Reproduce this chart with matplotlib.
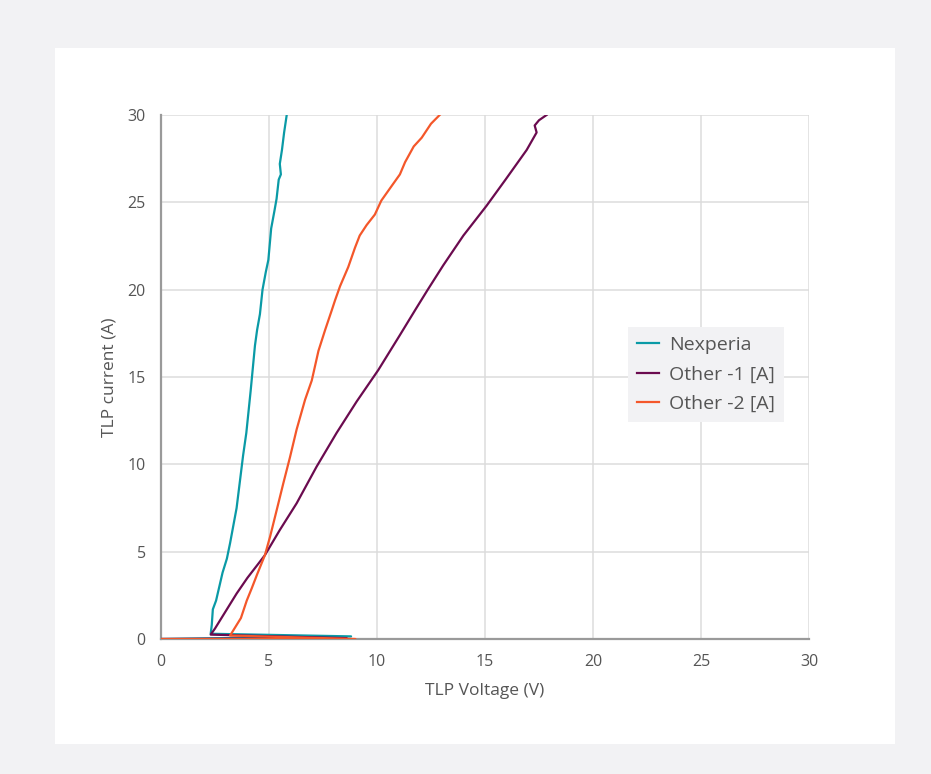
import matplotlib
matplotlib.use("Agg")
import matplotlib.pyplot as plt
from matplotlib.patches import Rectangle

# ---- data ----
nex_v = [0, 8.8, 2.3, 2.35, 2.4, 2.55, 2.7, 2.85, 3.05, 3.2, 3.35, 3.5, 3.6, 3.7, 3.8, 3.95, 4.05,
         4.15, 4.25, 4.35, 4.45, 4.58, 4.7, 4.85, 4.97, 5.1, 5.25, 5.35, 5.45, 5.55, 5.5, 5.6, 5.7, 5.82]
nex_i = [0, 0.15, 0.3, 0.8, 1.7, 2.2, 3.0, 3.8, 4.6, 5.5, 6.5, 7.5, 8.5, 9.5, 10.5, 11.8, 13.0,
         14.2, 15.5, 16.8, 17.7, 18.6, 20.0, 21.0, 21.7, 23.5, 24.5, 25.2, 26.3, 26.6, 27.2, 28.0, 29.0, 30.0]

o1_v = [0, 8.6, 2.3, 2.5, 3.0, 3.5, 4.0, 4.5, 4.81, 5.5, 6.28, 7.2, 8.13, 9.06, 10.06,
        11.06, 11.8, 12.35, 13.07, 14.0, 15.07, 15.95, 16.93, 17.39, 17.3, 17.5, 17.85]
o1_i = [0, 0.05, 0.25, 0.6, 1.6, 2.6, 3.5, 4.3, 4.8, 6.24, 7.77, 9.86, 11.8, 13.6, 15.4,
        17.4, 18.9, 20.0, 21.4, 23.1, 24.8, 26.3, 28.0, 29.0, 29.4, 29.7, 30.0]

o2_v = [0, 9.0, 3.2, 3.4, 3.7, 3.97, 4.2, 4.45, 4.81, 5.05, 5.36, 5.66, 5.97, 6.28, 6.67, 6.98,
        7.29, 7.6, 7.9, 8.06, 8.29, 8.67, 8.98, 9.2, 9.52, 9.9, 10.2, 10.6, 11.06, 11.3, 11.7, 12.07, 12.5, 12.9]
o2_i = [0, 0.0, 0.2, 0.6, 1.2, 2.2, 2.9, 3.7, 4.8, 5.86, 7.4, 8.9, 10.4, 12.0, 13.7, 14.8,
        16.5, 17.7, 18.8, 19.4, 20.2, 21.3, 22.4, 23.1, 23.7, 24.3, 25.1, 25.8, 26.6, 27.3, 28.2, 28.7, 29.5, 30.0]

labels = ["Nexperia", "Other -1 [A]", "Other -2 [A]"]
colors = ["#0a9aa6", "#6b0b4f", "#f4572a"]
ticks = [0, 5, 10, 15, 20, 25, 30]

plt.rcParams['font.family'] = ['Open Sans', 'DejaVu Sans']
fig = plt.figure(figsize=(9.31, 7.74), dpi=100)
fig.patch.set_facecolor("#f2f2f4")
fig.add_artist(Rectangle((55/931, 1-744/774), 840/931, 696/774, transform=fig.transFigure,
                         facecolor="white", edgecolor="none", zorder=-5))

ax = fig.add_axes([161/931, 1-639/774, 648/931, 524/774])
ax.set_zorder(1)
ax.set_facecolor("white")
for v, i, lab, c in zip([nex_v, o1_v, o2_v], [nex_i, o1_i, o2_i], labels, colors):
    ax.plot(v, i, color=c, lw=1.6, label=lab, solid_joinstyle="round", zorder=3)

ax.set_xlim(0, 30)
ax.set_ylim(0, 30)
ax.set_xticks(ticks)
ax.set_yticks(ticks)
ax.grid(True, color="#dcdcdc", lw=1.1, zorder=0)
ax.set_axisbelow(True)
for s in ["top", "right"]:
    ax.spines[s].set_visible(False)
for s in ["left", "bottom"]:
    ax.spines[s].set_color("#9a9a9a")
    ax.spines[s].set_linewidth(1.6)
ax.tick_params(axis="y", length=0, labelsize=11.5, labelcolor="#555555", pad=11)
ax.tick_params(axis="x", length=0, labelsize=11.5, labelcolor="#555555", pad=11)
ax.set_xlabel("TLP Voltage (V)", fontsize=12.5, color="#555555", labelpad=9)
ax.set_ylabel("TLP current (A)", fontsize=12.5, color="#555555", labelpad=7)

leg = ax.legend(loc="upper left", bbox_to_anchor=((628-161)/648, (639-327)/524), frameon=True,
                fancybox=False, fontsize=14, handlelength=1.15, handletextpad=0.5,
                borderpad=0.45, labelspacing=0.6, borderaxespad=0, labelcolor="#555555")
leg.get_frame().set_facecolor("#f2f2f4")
leg.get_frame().set_edgecolor("none")
leg.get_frame().set_alpha(1)

fig.savefig("out.png", dpi=100, facecolor=fig.get_facecolor())
